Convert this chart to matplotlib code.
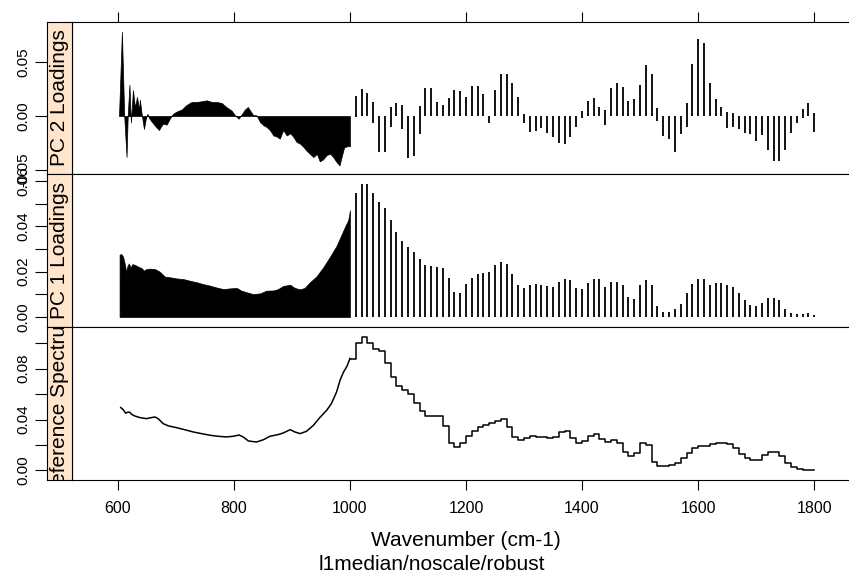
import numpy as np
import matplotlib
matplotlib.use("Agg")
import matplotlib.pyplot as plt

plt.rcParams['font.family'] = ['Liberation Sans', 'DejaVu Sans']

# binned region: one value every 10 cm-1
bin_wn = np.arange(1010, 1810, 10)

# PC 2 loadings, dense part (600-1000)
pc2_dense_wn = [602, 607, 611, 615, 617, 620, 622.5, 626, 629.5, 633, 636.5, 638, 641, 645, 648, 651,
                654, 658, 664, 671, 674, 678, 684, 690, 695, 701, 710, 718, 727, 736, 744, 753, 762,
                770, 779, 787, 796, 802, 808, 813, 819, 824, 828, 833, 839, 845, 851, 856, 862, 868,
                874, 879, 885, 891, 897, 902, 908, 914, 920, 925, 931, 937, 943, 948, 954, 960, 966,
                971, 977, 982, 986, 990, 995, 1000]
pc2_dense = [0.0, 0.078, 0.0, -0.038, 0.0, 0.029, -0.006, 0.024, 0.008, 0.0176, 0.006, 0.015, 0.002,
             -0.012, -0.003, 0.002, -0.002, -0.005, -0.009, -0.013, -0.010, -0.007, -0.008, -0.002,
             0.002, 0.004, 0.006, 0.010, 0.013, 0.013, 0.0136, 0.0145, 0.013, 0.013, 0.012, 0.0083,
             0.005, 0.0006, -0.0025, 0.0012, 0.006, 0.0083, 0.005, 0.001, 0.0006, -0.0056, -0.0086,
             -0.010, -0.013, -0.018, -0.019, -0.021, -0.013, -0.018, -0.016, -0.019, -0.024, -0.0256,
             -0.0287, -0.032, -0.035, -0.038, -0.035, -0.042, -0.040, -0.036, -0.035, -0.038,
             -0.0426, -0.0457, -0.037, -0.029, -0.028, -0.028]

# PC 2 loadings, binned part: each bar spans lo..hi
pc2_hi = [0.0188, 0.0247, 0.0216, 0.0133, 0, 0, 0.0086, 0.0117, 0.0102, 0,
          0, 0.0093, 0.0262, 0.0262, 0.0133, 0.0102, 0.0164, 0.0241, 0.0235, 0.0173,
          0.0281, 0.0281, 0.0204, 0.0003, 0.0241, 0.0389, 0.0389, 0.0302, 0.0173, 0.0019,
          0, 0, 0, 0, 0, 0, 0, 0, 0, 0.0049,
          0.0142, 0.0164, 0.0086, 0.0056, 0.0256, 0.0302, 0.0265, 0.0142, 0.0157, 0.0287,
          0.0472, 0.0389, 0.0071, 0, 0, 0, 0, 0.0123, 0.0481, 0.071,
          0.0673, 0.0302, 0.0157, 0.0086, 0.004, 0.0025, 0, 0, 0, 0,
          0, 0, 0, 0, 0, 0, 0, 0.0062, 0.0117, 0.0025]
pc2_lo = [-0.0012, 0, 0, -0.0062, -0.033, -0.0336, -0.0105, 0, -0.0123, -0.0392,
          -0.037, -0.017, 0, 0, 0, 0, 0, 0, 0, 0,
          0, 0, 0, -0.0062, 0, 0, 0, 0, 0, -0.0068,
          -0.0145, -0.0139, -0.0114, -0.0154, -0.0198, -0.0253, -0.0262, -0.0191, -0.0099, -0.0022,
          0, 0, 0, -0.0083, 0, 0, 0, 0, 0, 0,
          0, 0, -0.0043, -0.0185, -0.0216, -0.033, -0.0167, -0.0105, 0, 0,
          0, 0, 0, 0, -0.0114, -0.0105, -0.0123, -0.016, -0.0167, -0.0231,
          -0.0176, -0.0315, -0.0414, -0.0414, -0.0315, -0.0154, -0.0068, -0.0022, 0, -0.0151]

# PC 1 loadings
pc1_dense_wn = [603, 606, 609, 612, 614.5, 616.5, 619, 622, 625, 629, 635, 641, 645, 649, 655, 664,
                672, 681, 690, 701, 713, 724, 736, 747, 759, 770, 782, 793, 805, 813, 822, 833, 845,
                856, 868, 876, 885, 897, 905, 914, 922, 931, 942, 954, 965, 977, 986, 991, 997, 1000]
pc1_dense = [0.0275, 0.0277, 0.0266, 0.0233, 0.0197, 0.0225, 0.0236, 0.0218, 0.0233, 0.023, 0.0222,
             0.0215, 0.0204, 0.0211, 0.0213, 0.0211, 0.020, 0.0178, 0.0175, 0.017, 0.0167, 0.016,
             0.0153, 0.0145, 0.0138, 0.013, 0.0123, 0.0126, 0.0128, 0.0116, 0.0109, 0.0101, 0.0104,
             0.0116, 0.0117, 0.0123, 0.0137, 0.0142, 0.0128, 0.0122, 0.0128, 0.0153, 0.0178, 0.0219,
             0.0263, 0.0314, 0.0366, 0.0395, 0.0427, 0.047]
pc1_bins = [0.0548, 0.0586, 0.0586, 0.0545, 0.0505, 0.0479, 0.0427, 0.0373, 0.0335, 0.0307,
            0.0288, 0.0254, 0.0229, 0.0225, 0.0219, 0.0214, 0.0173, 0.0109, 0.0104, 0.0144,
            0.0173, 0.0188, 0.0195, 0.020, 0.0229, 0.0241, 0.0233, 0.0188, 0.0141, 0.0126,
            0.0141, 0.0144, 0.0139, 0.0137, 0.0134, 0.0156, 0.0169, 0.0163, 0.0126, 0.0122,
            0.0151, 0.0167, 0.0166, 0.0134, 0.0154, 0.0153, 0.0141, 0.0087, 0.0081, 0.0139,
            0.0163, 0.0139, 0.005, 0.0023, 0.0023, 0.0034, 0.0056, 0.0104, 0.0145, 0.0167,
            0.0166, 0.0141, 0.0148, 0.0148, 0.0141, 0.0131, 0.0107, 0.0075, 0.0053, 0.0048,
            0.0063, 0.0082, 0.0084, 0.0075, 0.0034, 0.0019, 0.0013, 0.0015, 0.0016, 0.001]

# reference spectrum
ref_dense_wn = [605, 609, 613.5, 617.5, 620.7, 623.6, 629, 638, 649, 658, 664, 669.5, 678, 687, 701,
                715, 730, 744, 759, 773, 787, 799, 809, 816, 825, 839, 851, 862, 876, 885, 897, 905,
                914, 925, 937, 948, 960, 968, 977, 983, 989, 995, 1000]
ref_dense = [0.0494, 0.0478, 0.045, 0.0458, 0.0457, 0.0441, 0.0428, 0.0415, 0.0407, 0.0415, 0.042,
             0.0407, 0.0368, 0.035, 0.0336, 0.032, 0.0302, 0.0289, 0.0276, 0.0268, 0.0263, 0.0268,
             0.0278, 0.0263, 0.0231, 0.0223, 0.0241, 0.0268, 0.0281, 0.0294, 0.032, 0.0302, 0.0289,
             0.0307, 0.0354, 0.0415, 0.0473, 0.0525, 0.0617, 0.071, 0.0774, 0.082, 0.088]
ref_bins = [0.100, 0.105, 0.100, 0.0953, 0.094, 0.0843, 0.0738, 0.0664, 0.0633, 0.060,
            0.0533, 0.0467, 0.0428, 0.0428, 0.0428, 0.0349, 0.0218, 0.0186, 0.0213, 0.027,
            0.0312, 0.0344, 0.0357, 0.037, 0.0391, 0.0402, 0.0339, 0.026, 0.0239, 0.0252,
            0.0273, 0.0265, 0.0263, 0.0252, 0.0265, 0.0305, 0.031, 0.0252, 0.0213, 0.0234,
            0.027, 0.0286, 0.0244, 0.0226, 0.0239, 0.0218, 0.0142, 0.0116, 0.0139, 0.0213,
            0.020, 0.0068, 0.0037, 0.0037, 0.0042, 0.0055, 0.0095, 0.0139, 0.0173, 0.0192,
            0.0194, 0.0207, 0.0218, 0.0218, 0.0207, 0.0173, 0.0129, 0.0095, 0.0081, 0.0081,
            0.0121, 0.0147, 0.0147, 0.0113, 0.006, 0.0029, 0.0008, 0.0003, 0.0, 0.0]

strip_names = ['PC 2 Loadings', 'PC 1 Loadings', 'Reference Spectrum']
x_ticks = [600, 800, 1000, 1200, 1400, 1600, 1800]

W, H = 849, 578
fig = plt.figure(figsize=(W / 100, H / 100), dpi=100)

# panel rows in pixels (top, bottom)
rows = [(22, 174), (174, 327), (327, 480)]
ylims = [(-0.0537, 0.087), (-0.0044, 0.063), (-0.0076, 0.1128)]
yticks = [([-0.05, 0.0, 0.05], ['-0.05', '0.00', '0.05']),
          ([0, 0.01, 0.02, 0.03, 0.04, 0.05, 0.06], ['0.00', '', '0.02', '', '0.04', '', '0.06']),
          ([0, 0.02, 0.04, 0.06, 0.08, 0.10], ['0.00', '', '0.04', '', '0.08', ''])]

axes = []
for i, (top, bot) in enumerate(rows):
    b = 1 - bot / H
    h = (bot - top) / H
    ax = fig.add_axes([72 / W, b, 788 / W, h])
    ax.set_xlim(521, 1879)
    ax.set_ylim(*ylims[i])
    ax.set_yticks([])
    ax.set_xticks(x_ticks)
    for s in ax.spines.values():
        s.set_linewidth(0.8)
    if i == 0:
        ax.tick_params(axis='x', top=True, bottom=False, labeltop=False, labelbottom=False,
                       direction='out', length=7.2, width=0.8)
    elif i == 2:
        ax.tick_params(axis='x', top=False, bottom=True, labelbottom=True,
                       direction='out', length=7.2, width=0.8, labelsize=11.5, pad=8)
    else:
        ax.tick_params(axis='x', top=False, bottom=False, labelbottom=False)

    st = fig.add_axes([47 / W, b, 25 / W, h])
    st.set_facecolor('#FFE5CC')
    st.set_xticks([])
    st.set_ylim(*ylims[i])
    st.set_yticks(yticks[i][0])
    st.set_yticklabels(yticks[i][1])
    st.tick_params(axis='y', direction='out', length=8.3, width=0.8, labelsize=11,
                   pad=4, labelrotation=90)
    for lab in st.get_yticklabels():
        lab.set_verticalalignment('center')
    for s in st.spines.values():
        s.set_linewidth(0.8)
    st.text(0.5, 0.5, strip_names[i], rotation=90, ha='center', va='center',
            transform=st.transAxes, fontsize=15, clip_on=True)
    axes.append(ax)

# PC 2
ax = axes[0]
ax.fill_between(pc2_dense_wn, 0, pc2_dense, color='black', lw=0.5)
ax.vlines(bin_wn, pc2_lo, pc2_hi, colors='black', lw=1.3)

# PC 1
ax = axes[1]
ax.fill_between(pc1_dense_wn, 0, pc1_dense, color='black', lw=0.5)
ax.vlines(bin_wn, 0, pc1_bins, colors='black', lw=1.3)

# reference spectrum
ax = axes[2]
ax.plot(ref_dense_wn, ref_dense, color='black', lw=1.1)
ax.plot(np.r_[ref_dense_wn[-1], bin_wn], np.r_[ref_dense[-1], ref_bins],
        drawstyle='steps-post', color='black', lw=1.1)

fig.text(466 / W, 1 - 541 / H, 'Wavenumber (cm-1)', ha='center', va='center', fontsize=15)
fig.text(432 / W, 1 - 565 / H, 'l1median/noscale/robust', ha='center', va='center', fontsize=15)

fig.savefig('out.png', dpi=100)
